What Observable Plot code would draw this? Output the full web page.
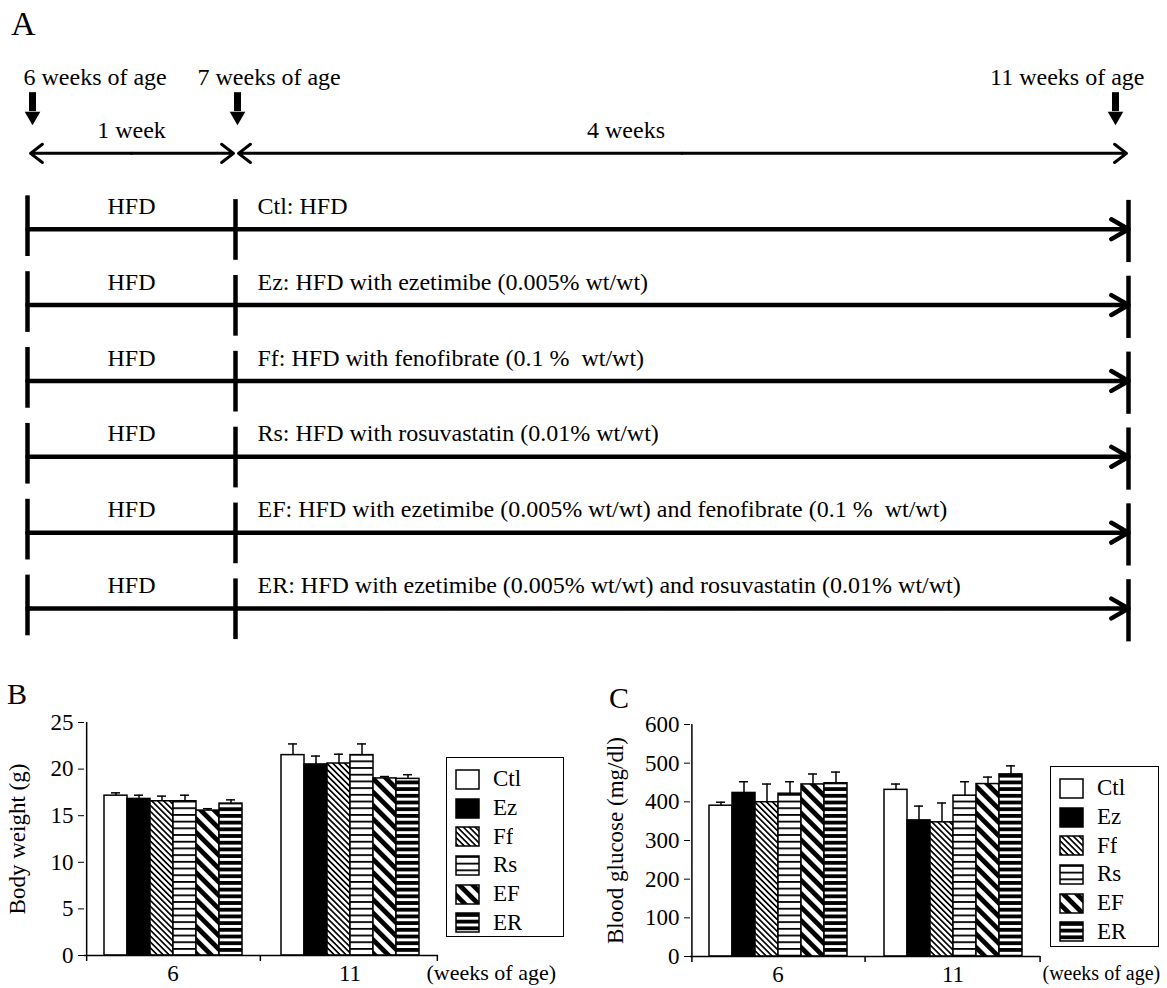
<!DOCTYPE html>
<html><head><meta charset="utf-8">
<script src="https://cdn.jsdelivr.net/npm/d3@7"></script>
<script src="https://cdn.jsdelivr.net/npm/@observablehq/plot@0.6"></script>
<style>
body{margin:0;background:#fff;}
#root{position:relative;width:1167px;height:988px;overflow:hidden;background:#fff;font-family:'Liberation Serif','Times New Roman',serif;color:#000}
#root svg text{white-space:pre}
.panel{position:absolute}
.plab{position:absolute;line-height:1;font-family:'Liberation Serif','Times New Roman',serif}
.lgbox{position:absolute;border:1.5px solid #000;box-sizing:border-box;background:#fff;padding:7px 0 0 9px}
.lgbox .lg-swatches{margin:0 !important;font-family:'Liberation Serif','Times New Roman',serif !important;font-size:23px !important;color:#000}
.lgbox .lg-swatch{height:28.7px;padding:0 !important;display:flex;align-items:center}
.lgbox .lg-swatch > svg{margin-right:14px !important;overflow:visible}
.lgbox .lg-swatch rect{stroke:#000;stroke-width:1.5px}
</style></head><body>
<svg width="0" height="0" style="position:absolute">
<defs>
<pattern id="pFf" patternUnits="userSpaceOnUse" width="4.2" height="4.2" patternTransform="rotate(-45)">
<rect width="4.2" height="4.2" fill="#fff"/><rect width="1.7" height="4.2" fill="#000"/></pattern>
<pattern id="pRs" patternUnits="userSpaceOnUse" width="6" height="6.7">
<rect width="6" height="6.7" fill="#fff"/><rect width="6" height="1.8" fill="#000"/></pattern>
<pattern id="pEF" patternUnits="userSpaceOnUse" width="9.5" height="9.5" patternTransform="rotate(-45)">
<rect width="9.5" height="9.5" fill="#fff"/><rect width="4.8" height="9.5" fill="#000"/></pattern>
<pattern id="pER" patternUnits="userSpaceOnUse" width="6" height="6.7">
<rect width="6" height="6.7" fill="#fff"/><rect width="6" height="3.8" fill="#000"/></pattern>
</defs></svg>
<div id="root"></div>
<script>
// ---------- Panel A data ----------
const milestones = [6, 7, 11];
const milestoneLabels = ["6 weeks of age", "7 weeks of age", "11 weeks of age"];
const spanFrom = [6, 7];
const spanTo = [7, 11];
const spanLabels = ["1 week", "4 weeks"];
const rowIndex = [1, 2, 3, 4, 5, 6];
const rowPreLabel = ["HFD", "HFD", "HFD", "HFD", "HFD", "HFD"];
const rowTreatments = [
  "Ctl: HFD",
  "Ez: HFD with ezetimibe (0.005% wt/wt)",
  "Ff: HFD with fenofibrate (0.1 %  wt/wt)",
  "Rs: HFD with rosuvastatin (0.01% wt/wt)",
  "EF: HFD with ezetimibe (0.005% wt/wt) and fenofibrate (0.1 %  wt/wt)",
  "ER: HFD with ezetimibe (0.005% wt/wt) and rosuvastatin (0.01% wt/wt)"
];

// ---------- Panels B & C data ----------
const weeks = ["6", "11"];
const groups = ["Ctl", "Ez", "Ff", "Rs", "EF", "ER"];
const bodyWeight6 = [17.15, 16.8, 16.55, 16.55, 15.55, 16.3];
const bodyWeightSE6 = [0.3, 0.4, 0.55, 0.65, 0.2, 0.4];
const bodyWeight11 = [21.5, 20.5, 20.6, 21.5, 19.0, 18.95];
const bodyWeightSE11 = [1.2, 0.9, 1.0, 1.2, 0.2, 0.45];
const glucose6 = [390, 423, 399, 421, 445, 448];
const glucoseSE6 = [9, 29, 47, 31, 27, 29];
const glucose11 = [431, 352, 347, 416, 446, 471];
const glucoseSE11 = [15, 37, 50, 36, 18, 22];
const groupFills = ["white", "black", "url(#pFf)", "url(#pRs)", "url(#pEF)", "url(#pER)"];

const serif = "'Liberation Serif','Times New Roman',serif";
const root = document.getElementById("root");

function place(el, left, top) {
  const d = document.createElement("div");
  d.className = "panel";
  d.style.left = left + "px";
  d.style.top = top + "px";
  d.appendChild(el);
  root.appendChild(d);
  return d;
}
function letter(t, left, top, size) {
  const d = document.createElement("div");
  d.className = "plab";
  d.textContent = t;
  d.style.left = left + "px";
  d.style.top = top + "px";
  d.style.fontSize = size + "px";
  root.appendChild(d);
}

// ---------- Panel A ----------
const spans = spanFrom.map((f, i) => ({from: f, to: spanTo[i], mid: (f + spanTo[i]) / 2, label: spanLabels[i]}));
const rows = rowIndex.map((k, i) => ({k, pre: rowPreLabel[i], text: rowTreatments[i]}));
const msLayout = [
  {arrowDx: 5, anchor: "start", textDx: -4},
  {arrowDx: 2, anchor: "start", textDx: -38},
  {arrowDx: -13, anchor: "end", textDx: 16}
];
const msMarks = milestones.flatMap((m, i) => {
  const L = msLayout[i];
  const d = [{x: m, label: milestoneLabels[i]}];
  return [
    Plot.text(d, {x: "x", y: -1, text: "label", textAnchor: L.anchor, dx: L.textDx}),
    Plot.ruleX(d, {x: "x", y1: -0.8, y2: -0.55, strokeWidth: 7, dx: L.arrowDx}),
    Plot.dot(d, {x: "x", y: -0.49, symbol: "triangle", rotate: 180, r: 5.8, fill: "black", stroke: "none", dx: L.arrowDx})
  ];
});
const panelA = Plot.plot({
  width: 1167, height: 680,
  margin: 0,
  x: {type: "linear", domain: [6, 7, 11], range: [27, 235, 1128], axis: null},
  y: {type: "linear", domain: [-1, 6], range: [77, 608], axis: null},
  style: {fontFamily: serif, fontSize: "24px", color: "black", background: "transparent", overflow: "visible"},
  marks: [
    ...msMarks,
    Plot.arrow(spans, {x1: "mid", x2: "from", y1: 0, y2: 0, strokeWidth: 3, headAngle: 75, headLength: 7.5, insetEnd: 3}),
    Plot.arrow(spans, {x1: "mid", x2: "to", y1: 0, y2: 0, strokeWidth: 3, headAngle: 75, headLength: 7.5, insetEnd: 2}),
    Plot.text(spans.slice(0, 1), {x: "mid", y: 0, text: "label", dy: -23}),
    Plot.text(spans.slice(1), {x: "mid", y: 0, text: "label", dy: -23, dx: -56}),
    Plot.ruleX(rows, {x: 6, y1: d => d.k - 0.44, y2: d => d.k + 0.36, strokeWidth: 4.5}),
    Plot.ruleX(rows, {x: 7, y1: d => d.k - 0.39, y2: d => d.k + 0.41, strokeWidth: 4.5}),
    Plot.ruleX(rows, {x: 11, y1: d => d.k - 0.38, y2: d => d.k + 0.44, strokeWidth: 4.5}),
    Plot.arrow(rows, {x1: 6, x2: 11, y1: "k", y2: "k", strokeWidth: 4.5, headAngle: 60, headLength: 6.6}),
    Plot.text(rows, {x: 6.5, y: "k", text: "pre", dy: -23}),
    Plot.text(rows, {x: 7, y: "k", text: "text", textAnchor: "start", dx: 22, dy: -23})
  ]
});
place(panelA, 0, 0);
letter("A", 11, 7, 34);

// ---------- Bar panels ----------
const PO = 0.74;
function table(m6, s6, m11, s11) {
  const M = [m6, m11], S = [s6, s11];
  return weeks.flatMap((w, wi) => groups.map((g, gi) => ({week: w, group: g, value: M[wi][gi], se: S[wi][gi]})));
}
function barPanel({data, yMax, yStep, yLabel, width, height, mL, mR, mT, mB, labelOffset, unitDx, unitSize}) {
  const fw = (width - mL - mR) / weeks.length;
  const step = fw / (groups.length + 2 * PO);
  const edge = step * (0.5 + PO);
  const tickLen = yMax * 6 / (height - mT - mB);
  return Plot.plot({
    width, height, marginLeft: mL, marginRight: mR, marginTop: mT, marginBottom: mB,
    style: {fontFamily: serif, fontSize: "23px", color: "black", background: "transparent", overflow: "visible"},
    fx: {domain: weeks, padding: 0, axis: "bottom", tickSize: 0, tickPadding: 9, label: null},
    x: {domain: groups, paddingInner: 0, paddingOuter: PO, axis: null},
    y: {domain: [0, yMax], ticks: d3.range(0, yMax + yStep / 2, yStep), tickSize: 6, tickPadding: 5,
        label: yLabel, labelAnchor: "center", labelOffset, labelArrow: "none"},
    color: {domain: groups, range: groupFills},
    marks: [
      Plot.barY(data, {fx: "week", x: "group", y: "value", fill: "group", stroke: "black", strokeWidth: 1.5}),
      Plot.ruleX(data, {fx: "week", x: "group", y1: "value", y2: d => d.value + d.se, strokeWidth: 1.5}),
      Plot.tickY(data, {fx: "week", x: "group", y: d => d.value + d.se, insetLeft: 7, insetRight: 7, strokeWidth: 1.5}),
      Plot.ruleY([0], {strokeWidth: 1.5}),
      Plot.ruleX([{week: weeks[0], group: groups[0]}], {fx: "week", x: "group", dx: -edge, y1: -tickLen, y2: yMax, strokeWidth: 1.5}),
      Plot.ruleX(weeks.map(w => ({week: w, group: groups[groups.length - 1]})), {fx: "week", x: "group", dx: edge, y1: -tickLen, y2: 0, strokeWidth: 1.5}),
      Plot.text([{week: weeks[weeks.length - 1], t: "(weeks of age)"}], {fx: "week", text: "t", frameAnchor: "bottom-right", textAnchor: "start", lineAnchor: "top", dx: unitDx, dy: 9, fontSize: unitSize})
    ]
  });
}
function legendBox(left, top, w, h) {
  const box = document.createElement("div");
  box.className = "lgbox";
  box.style.left = left + "px"; box.style.top = top + "px";
  box.style.width = w + "px"; box.style.height = h + "px";
  box.appendChild(Plot.legend({color: {type: "ordinal", domain: groups, range: groupFills}, columns: 1, swatchWidth: 23, swatchHeight: 19, className: "lg", label: null}));
  root.appendChild(box);
}

const panelB = barPanel({data: table(bodyWeight6, bodyWeightSE6, bodyWeight11, bodyWeightSE11),
  yMax: 25, yStep: 5, yLabel: "Body weight (g)", width: 583, height: 308, mL: 84, mR: 145, mT: 42, mB: 33, labelOffset: 76, unitDx: -12, unitSize: 22});
place(panelB, 0, 680);
letter("B", 7, 679, 30);
legendBox(446, 757, 118, 180);

const panelC = barPanel({data: table(glucose6, glucoseSE6, glucose11, glucoseSE11),
  yMax: 600, yStep: 100, yLabel: "Blood glucose (mg/dl)", width: 584, height: 308, mL: 106, mR: 127, mT: 44, mB: 32, labelOffset: 84, unitDx: 2, unitSize: 20});
place(panelC, 583, 680);
letter("C", 609, 683, 30);
legendBox(1050, 766, 109, 181);
</script>
</body></html>
